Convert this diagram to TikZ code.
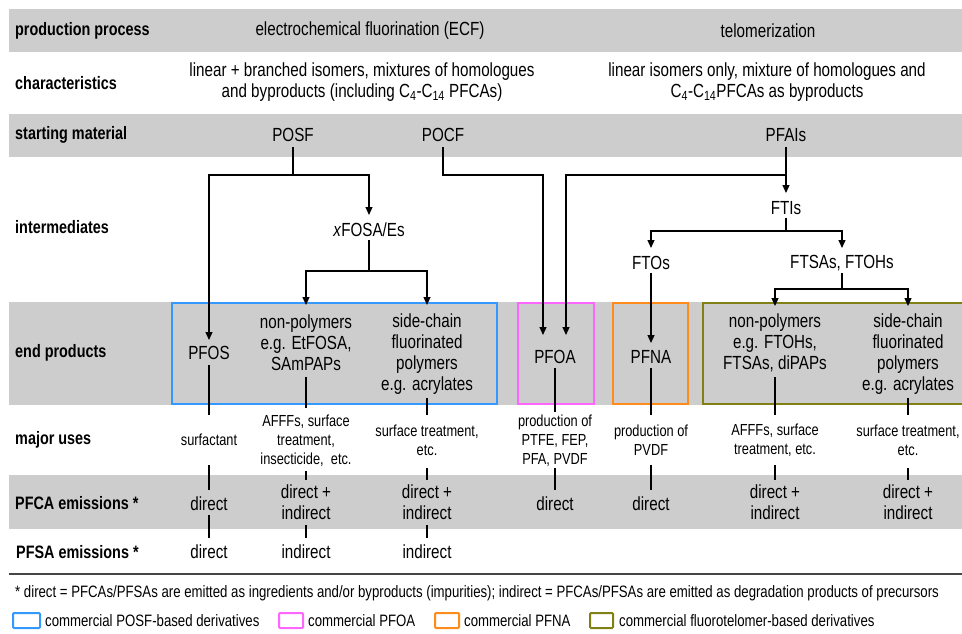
\documentclass[tikz,border=0pt]{standalone}
\usepackage{fontspec}
\setmainfont[FakeStretch=0.8]{Liberation Sans}
\usetikzlibrary{arrows.meta}
\definecolor{band}{RGB}{205,205,205}
\definecolor{posfc}{RGB}{51,153,255}
\definecolor{pfoac}{RGB}{255,102,255}
\definecolor{pfnac}{RGB}{255,140,26}
\definecolor{ftc}{RGB}{128,128,20}
\definecolor{rule}{RGB}{70,70,70}
\begin{document}
\begin{tikzpicture}[x=1pt,y=-1pt,
  lab/.style={anchor=west,font=\fontsize{18}{20}\selectfont\bfseries,inner sep=0pt},
  txt/.style={font=\fontsize{19}{21}\selectfont,align=center,inner sep=0pt},
  usetxt/.style={font=\fontsize{16}{19}\selectfont,align=center,inner sep=0pt},
  legtxt/.style={anchor=west,font=\fontsize{16.5}{19}\selectfont,inner sep=0pt},
  conn/.style={line width=1.2pt},
  arr/.style={conn,-{Triangle[length=8pt,width=7pt]}},
  ebox/.style={line width=2pt},
  lbox/.style={line width=2pt,fill=white,rounded corners=1pt}]
\useasboundingbox (0,0) rectangle (962,634);
% bands
\fill[band] (9,9) rectangle (964,52);
\fill[band] (9,114) rectangle (964,157);
\fill[band] (9,302) rectangle (964,405);
\fill[band] (9,475) rectangle (964,529);
% group boxes
\draw[ebox,draw=posfc] (172,303) rectangle (497,404);
\draw[ebox,draw=pfoac] (518,303) rectangle (594,404);
\draw[ebox,draw=pfnac] (613,303) rectangle (688,404);
\draw[ebox,draw=ftc] (703,303) rectangle (966,404);
% row labels
\node[lab] (Lprod) at (15,31) {production process};
\node[lab] (Lchar) at (15,83) {characteristics};
\node[lab] (Lstart) at (15,135) {starting material};
\node[lab] (Linter) at (15,227) {intermediates};
\node[lab] (Lend) at (15,353) {end products};
\node[lab] (Luses) at (15,440) {major uses};
\node[lab] (Lpfca) at (15,503) {PFCA emissions *};
\node[lab] (Lpfsa) at (16,552) {PFSA emissions *};
% headers
\node[txt] (ecf) at (370,31) {electrochemical fluorination (ECF)};
\node[txt] (telo) at (768,31) {telomerization};
\node[txt] (chE) at (362,82) {linear + branched isomers, mixtures of homologues\\and byproducts (including C\textsubscript{4}-C\textsubscript{14} PFCAs)};
\node[txt] (chT) at (767,82) {linear isomers only, mixture of homologues and\\C\textsubscript{4}-C\textsubscript{14}PFCAs as byproducts};
% starting materials
\node[txt] (posf) at (293,135) {POSF};
\node[txt] (pocf) at (443,135) {POCF};
\node[txt] (pfai) at (786,135) {PFAIs};
% intermediates
\node[txt] (xfosa) at (369,230) {\textit{x}FOSA/Es};
\node[txt] (ftis) at (786,208) {FTIs};
\node[txt] (ftos) at (651,263) {FTOs};
\node[txt] (ftsa) at (842,263) {FTSAs, FTOHs};
% end products
\node[txt] (pfos) at (209,353) {PFOS};
\node[txt] (np1) at (306,343) {non-polymers\\e.g. EtFOSA,\\SAmPAPs};
\node[txt] (sc1) at (427,354) {side-chain\\fluorinated\\polymers\\e.g. acrylates};
\node[txt] (pfoa) at (555,357) {PFOA};
\node[txt] (pfna) at (651,357) {PFNA};
\node[txt] (np2) at (775,343) {non-polymers\\e.g. FTOHs,\\FTSAs, diPAPs};
\node[txt] (sc2) at (908,354) {side-chain\\fluorinated\\polymers\\e.g. acrylates};
% major uses
\node[usetxt] (u1) at (209,440) {surfactant};
\node[usetxt] (u2) at (306,441) {AFFFs, surface\\treatment,\\insecticide,\ \ etc.};
\node[usetxt] (u3) at (427,440.5) {surface treatment,\\etc.};
\node[usetxt] (u4) at (555,441) {production of\\PTFE, FEP,\\PFA, PVDF};
\node[usetxt] (u5) at (651,440.5) {production of\\PVDF};
\node[usetxt] (u6) at (775,440.5) {AFFFs, surface\\treatment, etc.};
\node[usetxt] (u7) at (908,440.5) {surface treatment,\\etc.};
% PFCA emissions
\node[txt] (e1) at (209,504) {direct};
\node[txt] (e2) at (306,502.5) {direct +\\indirect};
\node[txt] (e3) at (427,502.5) {direct +\\indirect};
\node[txt] (e4) at (555,504) {direct};
\node[txt] (e5) at (651,504) {direct};
\node[txt] (e6) at (775,502.5) {direct +\\indirect};
\node[txt] (e7) at (908,502.5) {direct +\\indirect};
% PFSA emissions
\node[txt] (s1) at (209,552) {direct};
\node[txt] (s2) at (306,552) {indirect};
\node[txt] (s3) at (427,552) {indirect};
% junctions
\coordinate (posfJ) at (293,175);
\coordinate (pocfT) at (543,175);
\coordinate (pfaiJ) at (786,175);
\coordinate (pfoaR) at (566,175);
\coordinate (xfJ) at (369,271);
\coordinate (ftiJ) at (786,231);
\coordinate (ftsJ) at (842,289);
% ECF arrows
\draw[conn,shorten <=12pt] (posf.center) -- (posfJ);
\draw[arr,shorten >=13pt] (posfJ) -| (pfos.center);
\draw[arr,shorten >=15pt] (posfJ) -| (xfosa.center);
\draw[conn,shorten <=10pt] (xfosa.center) -- (xfJ);
\draw[arr,shorten >=38pt] (xfJ) -| (np1.center);
\draw[arr,shorten >=49pt] (xfJ) -| (sc1.center);
\draw[arr,shorten <=12pt,shorten >=22pt] (pocf.center) |- (pocfT) -- (pocfT |- pfoa.center);
% telomer arrows
\draw[conn,shorten <=12pt] (pfai.center) -- (pfaiJ);
\draw[arr,shorten >=15pt] (pfaiJ) -- (ftis.center);
\draw[arr,shorten >=22pt] (pfaiJ) -- (pfoaR) -- (pfoaR |- pfoa.center);
\draw[conn,shorten <=10pt] (ftis.center) -- (ftiJ);
\draw[arr,shorten >=15pt] (ftiJ) -| (ftos.center);
\draw[arr,shorten >=15pt] (ftiJ) -| (ftsa.center);
\draw[arr,shorten <=10pt,shorten >=14pt] (ftos.center) -- (pfna.center);
\draw[conn,shorten <=10pt] (ftsa.center) -- (ftsJ);
\draw[arr,shorten >=37pt] (ftsJ) -| (np2.center);
\draw[arr,shorten >=48pt] (ftsJ) -| (sc2.center);
% vertical links
\draw[conn,shorten <=12pt,shorten >=25pt] (pfos.center) -- (u1.center);
\draw[conn,shorten <=25pt,shorten >=14pt] (u1.center) -- (e1.center);
\draw[conn,shorten <=11pt,shorten >=14pt] (e1.center) -- (s1.center);
\draw[conn,shorten <=34pt,shorten >=33pt] (np1.center) -- (u2.center);
\draw[conn,shorten <=30pt,shorten >=22.5pt] (u2.center) -- (e2.center);
\draw[conn,shorten <=22.5pt,shorten >=14pt] (e2.center) -- (s2.center);
\draw[conn,shorten <=44pt,shorten >=25.5pt] (sc1.center) -- (u3.center);
\draw[conn,shorten <=27.5pt,shorten >=22.5pt] (u3.center) -- (e3.center);
\draw[conn,shorten <=22.5pt,shorten >=14pt] (e3.center) -- (s3.center);
\draw[conn,shorten <=11pt,shorten >=29pt] (pfoa.center) -- (u4.center);
\draw[conn,shorten <=27pt,shorten >=14pt] (u4.center) -- (e4.center);
\draw[conn,shorten <=11pt,shorten >=25.5pt] (pfna.center) -- (u5.center);
\draw[conn,shorten <=24.5pt,shorten >=14pt] (u5.center) -- (e5.center);
\draw[conn,shorten <=34pt,shorten >=25.5pt] (np2.center) -- (u6.center);
\draw[conn,shorten <=24.5pt,shorten >=22.5pt] (u6.center) -- (e6.center);
\draw[conn,shorten <=44pt,shorten >=25.5pt] (sc2.center) -- (u7.center);
\draw[conn,shorten <=27.5pt,shorten >=22.5pt] (u7.center) -- (e7.center);
% footnote
\draw[rule,line width=1.5pt] (9,574) -- (964,574);
\node[legtxt] (foot) at (15,593) {* direct = PFCAs/PFSAs are emitted as ingredients and/or byproducts (impurities); indirect = PFCAs/PFSAs are emitted as degradation products of precursors};
% legend
\draw[lbox,draw=posfc] (13,613) rectangle (40,628);
\node[legtxt] (l1) at (45,620.5) {commercial POSF-based derivatives};
\draw[lbox,draw=pfoac] (279,613) rectangle (303,628);
\node[legtxt] (l2) at (308,620.5) {commercial PFOA};
\draw[lbox,draw=pfnac] (435,613) rectangle (459,628);
\node[legtxt] (l3) at (464,620.5) {commercial PFNA};
\draw[lbox,draw=ftc] (590,613) rectangle (613,628);
\node[legtxt] (l4) at (619,620.5) {commercial fluorotelomer-based derivatives};
\end{tikzpicture}
\end{document}
